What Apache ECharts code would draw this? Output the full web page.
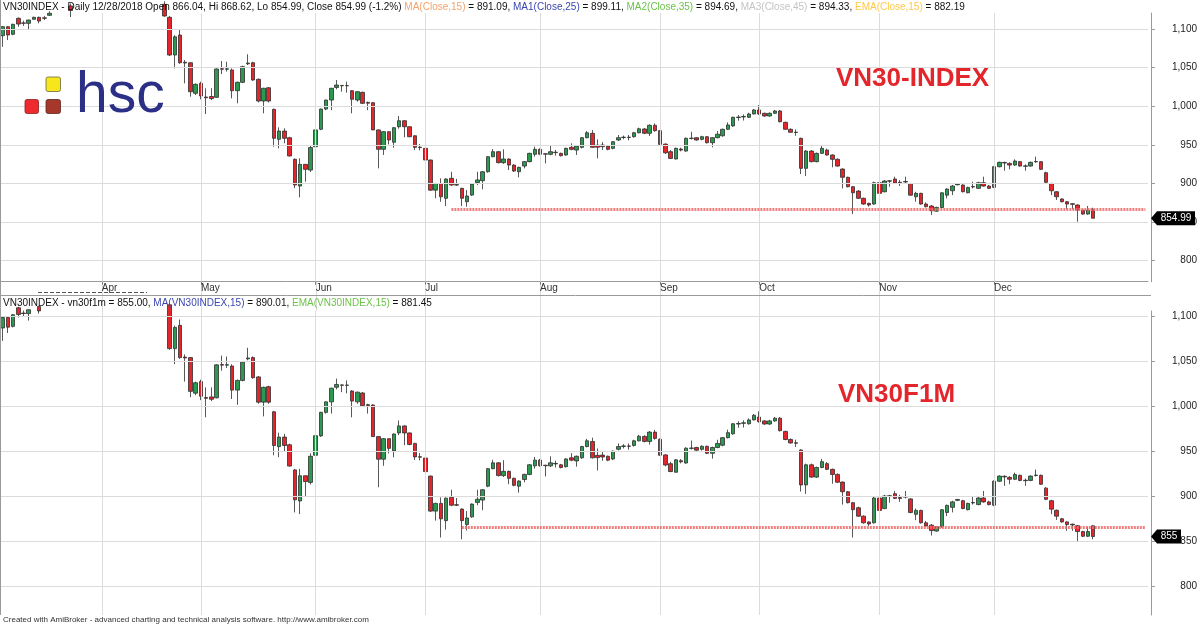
<!DOCTYPE html>
<html><head><meta charset="utf-8">
<script src="https://cdn.jsdelivr.net/npm/echarts@6/dist/echarts.min.js"></script>
<style>html,body{margin:0;padding:0;background:#fff}#c{width:1200px;height:628px}</style>
</head><body><div id="c"></div>
<script>
// ---------- categories ----------
const holidays = ['2018-04-25','2018-04-30','2018-05-01','2018-09-03'];
function tradingDates(s, e) {
  const out = [];
  let t = Date.UTC(+s.slice(0,4), +s.slice(5,7)-1, +s.slice(8,10));
  const end = Date.UTC(+e.slice(0,4), +e.slice(5,7)-1, +e.slice(8,10));
  while (t <= end) {
    const d = new Date(t), wd = d.getUTCDay();
    const iso = d.toISOString().slice(0,10);
    if (wd !== 0 && wd !== 6 && holidays.indexOf(iso) < 0) out.push(iso);
    t += 86400000;
  }
  return out;
}
const dates = tradingDates('2018-03-06', '2018-12-28');
const padSlots = 10;
const monthLabels = ['Apr','May','Jun','Jul','Aug','Sep','Oct','Nov','Dec'];
const priceTicks = [800, 850, 900, 950, 1000, 1050, 1100];

// ---------- VN30-INDEX  [open, close, low, high] ----------
const vn30 = [
[1091.4,1103,1077,1104],[1103,1092.3,1085.8,1104],[1093.2,1106.1,1092,1107],[1113.9,1106.5,1103,1115],[1108,1107.5,1104,1110.8],
[1107.4,1111.7,1099.6,1112],[1112.6,1115.2,1112,1116],[1115.2,1110.4,1107.4,1116],[1114.5,1114,1111.7,1117],[1117.8,1120.4,1117,1123],
[1124,1132,1122,1135],[1132,1138,1128,1142],[1138,1130,1126,1141],[1130,1124,1115.6,1133],[1125,1135,1123,1137],
[1135,1142,1131,1145],[1142,1150,1140,1153],[1150,1158,1147,1162],[1158,1165,1154,1168],[1165,1172,1160,1175],
[1172,1178,1168,1182],[1178,1170,1165,1181],[1170,1176,1166,1180],[1176,1183,1172,1186],[1183,1190,1180,1194],
[1190,1178,1174,1192],[1178,1165,1160,1180],[1165,1150,1145,1167],[1150,1158,1143,1162],[1158,1140,1136,1160],
[1140,1132,1126,1145],[1132,1116.9,1116,1136],[1115.2,1066.4,1065,1117],[1066.4,1090,1049.1,1092],[1092.3,1056.4,1055,1098.8],
[1057,1056,1029.7,1060],[1056.4,1018.8,1012.4,1057],[1016.8,1028.4,1014.6,1029.7],[1029.7,1013.3,1009,1031.8],[1012,1011,989.9,1023.3],
[1012.6,1010,1008,1023.3],[1011.6,1048.3,1011,1049],[1048.6,1048,1041.8,1058.6],[1048,1048.5,1044.9,1057.7],[1047,1020.2,1010.3,1049],
[1020.2,1031,1003.8,1032],[1031,1051.3,1030,1052.5],[1055,1056,1053.4,1067.3],[1056.4,1034,1033,1057.7],[1034.9,1006.8,1005,1036],
[1006.8,1023.3,990.9,1024],[1024,1006.8,1005,1025],[996,958.5,947.6,997],[957.2,967.9,945.5,972.7],[967.9,958.5,952,971.5],
[959.3,935.6,935,960.5],[931.3,898,894,932.5],[896.7,924.8,882.1,932.5],[924.8,918.3,902.3,925],[917.4,946.5,915,949.8],
[947.6,969.4,947,970],[970.2,996.4,969,997],[996.4,1008.1,995,1008.5],[1008.1,1023.3,995,1023.8],[1024.4,1027.5,1022,1034],
[1027,1026.5,1018.9,1027.5],[1026.5,1026.8,1017.6,1032],[1020.2,1009,990.9,1021],[1008.1,1018.9,1006,1019.5],[1018,1003.8,1003,1019],
[1005,1004,995,1006],[1004.6,969.4,969,1005.5],[969.4,944.2,919.6,970],[944.2,967.1,936.9,967.8],[967.1,956.3,950.7,967.8],
[953.4,972.3,946.4,973],[973.5,981.3,971,987.4],[981.3,973.5,959.8,982],[973.5,960.6,959.8,974],[961.8,946.8,943.3,962.5],
[947,946.5,943,951],[945.5,930.4,917.4,946],[930.4,891.4,890.5,931],[891.4,900,880.8,900.8],[900,882.8,876.4,906.7],
[880.8,905.8,870.8,906.7],[906.7,898,897,915.2],[898.5,898,897,906],[893.7,880.8,870.8,894.5],[876.4,883.8,869.9,891.5],
[885,899.2,884,900],[901.1,904.6,898,915.2],[903.7,915.2,892.4,916],[915.2,934.7,914,935.5],[934.7,941.2,934,944.6],
[941.2,927,926,942],[927,931.7,925.4,944.2],[931.7,923.9,917.4,932.5],[923.9,916.1,915,924.8],[915.2,920.9,908,921.7],
[922.6,928.3,919.6,929.1],[928.3,939,927.4,939.8],[937.8,944.2,934.7,947.7],[944.2,938,937,945.5],[938.5,938,926,939],
[937.8,941.2,936.5,948.5],[940.5,940,936,943.5],[939,936,935,940],[936.9,945.5,936,946.3],[946.8,944.2,943,952],
[943.3,948.5,936.9,949.3],[946.8,959.3,945.5,960.2],[959.3,965.7,958.5,967.9],[964.9,946.8,946,969.2],[949.5,947,932.6,957.2],
[949.8,947.7,943.5,953.5],[948.5,944.2,943,949.3],[945.5,954.1,944.2,955],[956.3,959.3,955,962.8],[959.5,960,957.2,962],
[960,959.6,955.8,962.8],[960.6,965.7,959.3,966.9],[965.7,970.8,965,972.3],[970.6,965,964,971.9],[965,975.4,961.5,976.6],
[975.4,968.4,967,977.9],[968.4,950.7,950,969.4],[951,939.8,938.2,951.9],[941.2,932.5,931.7,943.3],[931.7,945.5,931.3,946.4],
[944.6,943.3,941.6,946.4],[942,958.5,941.2,959.5],[958.3,958.7,957,967],[959.3,956.3,955.4,960],[957.2,960.6,955.8,961.8],
[960.6,952.8,951.9,961.3],[952.8,959.3,946.8,960.2],[959.3,963.8,958.5,967.9],[961.8,970.2,960.6,971],[970.2,975.8,969.4,979.1],
[974.5,985.7,973.5,986.5],[985.4,986,981.3,988.6],[986.2,986.8,981.5,989.5],[985.7,990,984.8,991.7],[990,995.2,989.5,996.5],
[995.2,990,989,1001.6],[990.9,987.4,986.5,991.7],[987.4,990.9,986.5,992.1],[990.9,993.9,990,995.2],[993.9,980,979.2,995.2],
[979.2,970.2,969.4,980],[970.2,966.3,965.7,971.4],[966.5,966,961.8,970],[958.5,919.6,912.2,959.3],[919.6,942,909.6,943.3],
[942,928.3,927.4,943.3],[928.3,939,927.4,940],[939,945.5,938.2,948.5],[943.3,936.9,936,945],[936.9,931.3,920.9,937.8],
[931.3,922.6,921.7,932.5],[918.7,908,893.7,919.6],[908,895.8,895,908.8],[895.8,888,860.4,896.7],[890.2,880.8,880,891.4],
[880.8,873.4,872.5,881.7],[874.3,872.1,870,875.1],[873.4,901,872.5,902.3],[901,887.2,886.3,902.3],[889.3,903.2,888.5,904.5],
[903,903.5,895.8,904.5],[905.8,900.6,899.8,908.8],[901.5,900.5,896.7,904.5],[902,902.6,900.6,908.8],[900,884.9,884,900.8],
[882.8,887.2,876.4,889.3],[887.2,873.4,872.5,888],[873.4,869.9,869,875.5],[870.8,864.7,859.2,872.1],[864.2,869,863.5,869.9],
[868.9,887.9,868,888.8],[884.9,892.8,880.8,893.7],[890.6,896.7,885,898],[898.4,899.4,897.5,900],[898,889.3,888.5,899],
[888,894.9,887.2,895.8],[895.5,896,893.7,902.3],[893.7,901,893,902.3],[901,896.7,895.8,908.8],[896.7,893.7,892.8,898],
[895,921.7,894,922.6],[921.7,927.4,921,928.3],[926.5,927.2,916.5,928.3],[926,923.9,918.3,927.4],[923.9,929.1,923,931.3],
[928.3,922.6,921.7,929.1],[922.3,922.8,916.5,924.8],[922.6,927.4,921.7,928.3],[928,928.5,927,934.7],[928.3,918.3,917.4,929.1],
[914,901.5,900.6,915.2],[900,890.6,885,901],[889.3,882.8,878.6,890.2],[879.9,876.4,875.5,880.8],[876.4,873.4,866.5,877.2],
[873.8,873,866.5,874.5],[872.1,865.6,850.5,873],[865.6,860.4,859.5,866.5],[860.4,865.6,859.5,870.8],[866.04,854.99,854.99,868.62]
];

// ---------- VN30F1M  [open, close, low, high] ----------
const vn30f1m = [
[1087.4,1099,1073,1100],[1099,1088.3,1081.8,1100],[1089.2,1102.1,1088,1103],[1109.9,1102.5,1099,1111],[1104,1103.5,1100,1106.8],
[1103.4,1107.7,1095.6,1108],[1108.6,1111.2,1108,1112],[1111.2,1106.4,1103.4,1112],[1110.5,1110,1107.7,1113],[1113.8,1116.4,1113,1119],
[1124,1132,1122,1135],[1132,1138,1128,1142],[1138,1130,1126,1141],[1130,1124,1115.6,1133],[1125,1135,1123,1137],
[1135,1142,1131,1145],[1142,1150,1140,1153],[1150,1158,1147,1162],[1158,1165,1154,1168],[1165,1172,1160,1175],
[1172,1178,1168,1182],[1178,1170,1165,1181],[1170,1176,1166,1180],[1176,1183,1172,1186],[1183,1190,1180,1194],
[1190,1178,1174,1192],[1178,1165,1160,1180],[1165,1150,1145,1167],[1150,1158,1143,1162],[1158,1140,1136,1160],
[1140,1132,1126,1145],[1132,1116.9,1116,1136],[1113.2,1064.4,1063,1115],[1064.4,1088,1047.1,1090],[1090.3,1054.4,1053,1096.8],
[1055,1054,1027.7,1058],[1054.4,1016.8,1010.4,1055],[1014.8,1026.4,1012.6,1027.7],[1027.7,1011.3,1007,1029.8],[1010,1009,987.9,1021.3],
[1010.6,1008,1006,1021.3],[1009.6,1046.3,1009,1047],[1046.6,1046,1039.8,1056.6],[1046,1046.5,1042.9,1055.7],[1045,1018.2,1008.3,1047],
[1018.2,1029,1001.8,1030],[1029,1049.3,1028,1050.5],[1053,1054,1051.4,1065.3],[1054.4,1032,1031,1055.7],[1032.9,1004.8,1003,1034],
[1004.8,1021.3,988.9,1022],[1022,1004.8,1003,1023],[994,956.5,945.6,995],[955.2,965.9,943.5,970.7],[965.9,956.5,950,969.5],
[957.3,933.6,933,958.5],[929.3,896,882,930.5],[894.7,922.8,880.1,930.5],[922.8,916.3,900.3,923],[915.4,944.5,913,947.8],
[945.6,967.4,945,968],[967.2,993.4,966,994],[993.4,1005.1,992,1005.5],[1005.1,1020.3,992,1020.8],[1021.4,1024.5,1019,1031],
[1024,1023.5,1015.9,1024.5],[1023.5,1023.8,1014.6,1029],[1017.2,1006,987.9,1018],[1005.1,1015.9,1003,1016.5],[1015,1000.8,1000,1016],
[1002,1001,992,1003],[1001.6,966.4,966,1002.5],[966.4,941.2,910,967],[941.2,964.1,933.9,964.8],[964.1,953.3,947.7,964.8],
[950.4,969.3,943.4,970],[970.5,978.3,968,984.4],[978.3,970.5,956.8,979],[970.5,957.6,956.8,971],[958.8,943.8,940.3,959.5],
[944,943.5,940,948],[942.5,927.4,914.4,943],[922.4,883.4,882.5,923],[883.4,892,872.8,892.8],[892,874.8,854,898.7],
[872.8,897.8,862.8,898.7],[898.7,890,889,907.2],[890.5,890,889,898],[885.7,872.8,852,886.5],[868.4,875.8,861.9,883.5],
[877,891.2,876,892],[893.1,896.6,890,907.2],[895.7,907.2,884.4,908],[911.2,930.7,910,931.5],[930.7,937.2,930,940.6],
[937.2,923,922,938],[923,927.7,921.4,940.2],[927.7,919.9,913.4,928.5],[919.9,912.1,911,920.8],[911.2,916.9,904,917.7],
[918.6,924.3,915.6,925.1],[924.3,935,923.4,935.8],[933.8,940.2,930.7,943.7],[940.2,934,933,941.5],[934.5,934,922,935],
[933.8,937.2,932.5,944.5],[936.5,936,932,939.5],[935,932,931,936],[932.9,941.5,932,942.3],[942.8,940.2,939,948],
[939.3,944.5,932.9,945.3],[942.8,955.3,941.5,956.2],[955.3,961.7,954.5,963.9],[960.9,942.8,942,965.2],[945.5,943,928.6,953.2],
[945.8,943.7,939.5,949.5],[944.5,940.2,939,945.3],[941.5,950.1,940.2,951],[952.3,955.3,951,958.8],[955.5,956,953.2,958],
[956,955.6,951.8,958.8],[956.6,961.7,955.3,962.9],[961.7,966.8,961,968.3],[966.6,961,960,967.9],[961,971.4,957.5,972.6],
[971.4,964.4,963,973.9],[963.4,945.7,945,964.4],[946,934.8,933.2,946.9],[936.2,927.5,926.7,938.3],[926.7,940.5,926.3,941.4],
[939.6,938.3,936.6,941.4],[937,953.5,936.2,954.5],[953.3,953.7,952,962],[954.3,951.3,950.4,955],[952.2,955.6,950.8,956.8],
[955.6,947.8,946.9,956.3],[947.8,954.3,941.8,955.2],[954.3,958.8,953.5,962.9],[956.8,965.2,955.6,966],[965.2,970.8,964.4,974.1],
[969.5,980.7,968.5,981.5],[980.4,981,976.3,983.6],[981.2,981.8,976.5,984.5],[980.7,985,979.8,986.7],[985,990.2,984.5,991.5],
[988.2,983,982,994.6],[983.9,980.4,979.5,984.7],[980.4,983.9,979.5,985.1],[983.9,986.9,983,988.2],[986.9,973,972.2,988.2],
[972.2,963.2,962.4,973],[963.2,959.3,958.7,964.4],[959.5,959,954.8,963],[951.5,912.6,905.2,952.3],[912.6,935,902.6,936.3],
[935,921.3,920.4,936.3],[921.3,932,920.4,933],[932,938.5,931.2,941.5],[936.3,929.9,929,938],[929.9,924.3,913.9,930.8],
[924.3,915.6,914.7,925.5],[915.7,905,890.7,916.6],[905,892.8,892,905.8],[892.8,885,854,893.7],[887.2,877.8,877,888.4],
[877.8,870.4,869.5,878.7],[871.3,869.1,867,872.1],[870.4,898,869.5,899.3],[898,884.2,883.3,899.3],[886.3,900.2,885.5,901.5],
[900,900.5,892.8,901.5],[902.8,897.6,896.8,905.8],[898.5,897.5,893.7,901.5],[899,899.6,897.6,905.8],[897,881.9,881,897.8],
[879.8,884.2,873.4,886.3],[884.2,870.4,869.5,885],[870.4,866.9,866,872.5],[867.8,861.7,856.2,869.1],[861.2,866,860.5,866.9],
[865.9,884.9,865,885.8],[881.9,889.8,877.8,890.7],[887.6,893.7,882,895],[895.4,896.4,894.5,897],[895,886.3,885.5,896],
[885,891.9,884.2,892.8],[892.5,893,890.7,899.3],[890.7,898,890,899.3],[898,893.7,892.8,905.8],[893.7,890.7,889.8,895],
[890,916.7,889,917.6],[916.7,922.4,916,923.3],[921.5,922.2,911.5,923.3],[921,918.9,913.3,922.4],[918.9,924.1,918,926.3],
[923.3,917.6,916.7,924.1],[917.3,917.8,911.5,919.8],[917.6,922.4,916.7,923.3],[923,923.5,922,929.7],[923.3,913.3,912.4,924.1],
[909,896.5,895.6,910.2],[895,885.6,880,896],[884.3,877.8,873.6,885.2],[874.9,871.4,870.5,875.8],[871.4,868.4,861.5,872.2],
[868.8,868,861.5,869.5],[867.1,860.6,849,868],[860.6,855.4,854.5,861.5],[855.4,860.6,854.5,865.8],[867,855,852,868]
];

// support lines: [start index, value]
const supportTop = [86, 866.3];
const supportBottom = [88, 865.8];
const lastTop = 854.99, lastBottom = 855;

// ---------- build ----------
const cats = dates.concat(Array.from({length: padSlots}, (_, k) => 'pad' + k));
const monthStart = [];
dates.forEach((d, i) => { if (i > 0 && d.slice(5,7) !== dates[i-1].slice(5,7)) monthStart.push(i); });
const isMonth = i => monthStart.indexOf(i) >= 0;
const FONT = '"Liberation Sans", Arial, sans-serif';
const GRID = '#dcdcdc';

function gridSeries(ax) {
  return {
    type: 'line', xAxisIndex: ax, yAxisIndex: ax, data: [], z: 1, silent: true,
    markLine: {
      silent: true, symbol: 'none', animation: false, label: {show: false},
      lineStyle: {color: GRID, width: 1, type: 'solid'},
      data: priceTicks.map(v => ({yAxis: v})).concat(monthStart.map(i => ({xAxis: cats[i]})))
    }
  };
}
function candleSeries(ax, data, sup) {
  return {
    type: 'candlestick', xAxisIndex: ax, yAxisIndex: ax, data: data, z: 3, barWidth: 4, clip: true,
    itemStyle: {color: '#2b9a50', color0: '#e3262b', borderColor: '#2e2e2e', borderColor0: '#2e2e2e', borderWidth: 0.8},
    markLine: {
      silent: true, symbol: 'none', animation: false, label: {show: false},
      lineStyle: {color: '#f07070', width: 3, type: [2, 1], opacity: 0.9},
      data: [[{coord: [cats[sup[0]], sup[1]]}, {coord: [cats[cats.length - 1], sup[1]]}]]
    }
  };
}
function yAx(ax, min, max) {
  return {
    type: 'value', gridIndex: ax, position: 'right', offset: 3, min: min, max: max, scale: true,
    splitLine: {show: false},
    axisLine: {show: true, lineStyle: {color: '#9a9a9a'}},
    axisTick: {show: true, customValues: priceTicks, length: 4, lineStyle: {color: '#9a9a9a'}},
    axisLabel: {customValues: priceTicks, formatter: v => v.toLocaleString('en-US'), align: 'right', margin: 46,
      fontSize: 10, fontFamily: FONT, color: '#222'}
  };
}
function rs(color) { return {color: color, fontSize: 10, fontFamily: FONT, fontWeight: 'normal'}; }

const chart = echarts.init(document.getElementById('c'), null, {renderer: 'canvas'});
const option = {
  animation: false,
  backgroundColor: '#fff',
  grid: [
    {left: 0, top: 13, width: 1148, height: 268.7},
    {left: 0, top: 311, width: 1148, height: 304}
  ],
  xAxis: [
    {type: 'category', gridIndex: 0, data: cats, boundaryGap: true,
     axisLine: {show: true, lineStyle: {color: '#9a9a9a'}},
     axisTick: {show: true, alignWithLabel: true, interval: (i) => isMonth(i), length: 3, lineStyle: {color: '#777'}},
     axisLabel: {interval: (i) => isMonth(i), formatter: (v, i) => monthLabels[monthStart.indexOf(i)] || '',
       align: 'left', margin: 2, fontSize: 10, fontFamily: FONT, color: '#333'},
     splitLine: {show: false}},
    {type: 'category', gridIndex: 1, data: cats, boundaryGap: true,
     axisLine: {show: false}, axisTick: {show: false}, axisLabel: {show: false}, splitLine: {show: false}}
  ],
  yAxis: [yAx(0, 772.8, 1120.8), yAx(1, 767.7, 1106.3)],
  title: [
    {left: 3, top: 2, padding: 0, text:
      '{k|VN30INDEX - Daily 12/28/2018 Open 866.04, Hi 868.62, Lo 854.99, Close 854.99 (-1.2%) }{a|MA(Close,15)}{k| = 891.09, }{b|MA1(Close,25)}{k| = 899.11, }{c|MA2(Close,35)}{k| = 894.69, }{d|MA3(Close,45)}{k| = 894.33, }{e|EMA(Close,15)}{k| = 882.19}',
     textStyle: {fontWeight: 'normal', rich: {k: rs('#111'), a: rs('#f4a26a'), b: rs('#3b46b0'), c: rs('#6cc24a'), d: rs('#c4c4c4'), e: rs('#ffc84a')}}},
    {left: 3, top: 298, padding: 0, text:
      '{k|VN30INDEX - vn30f1m = 855.00, }{b|MA(VN30INDEX,15)}{k| = 890.01, }{c|EMA(VN30INDEX,15)}{k| = 881.45}',
     textStyle: {fontWeight: 'normal', rich: {k: rs('#111'), b: rs('#3b46b0'), c: rs('#6cc24a')}}},
    {left: 3, top: 616, padding: 0, text: 'Created with AmiBroker - advanced charting and technical analysis software. http://www.amibroker.com',
     textStyle: {color: '#333', fontSize: 8, fontWeight: 'normal', fontFamily: FONT}},
    {left: 836, top: 66, padding: 0, text: 'VN30-INDEX', textStyle: {color: '#e3262b', fontSize: 26, fontWeight: 'bold', fontFamily: FONT}},
    {left: 838, top: 382, padding: 0, text: 'VN30F1M', textStyle: {color: '#e3262b', fontSize: 26, fontWeight: 'bold', fontFamily: FONT}}
  ],
  series: [gridSeries(0), gridSeries(1), candleSeries(0, vn30, supportTop), candleSeries(1, vn30f1m, supportBottom)]
};
chart.setOption(option);

function tag(yAxisIndex, value, text, width) {
  const y = chart.convertToPixel({yAxisIndex: yAxisIndex}, value);
  const x0 = 1151;
  return [
    {type: 'polygon', z: 100, shape: {points: [[x0, y], [x0 + 6, y - 7], [x0 + width, y - 7], [x0 + width, y + 7], [x0 + 6, y + 7]]},
     style: {fill: '#000'}},
    {type: 'text', z: 101, x: x0 + 6 + (width - 6) / 2, y: y, style: {text: text, fill: '#fff', font: '10px ' + FONT, align: 'center', verticalAlign: 'middle'}}
  ];
}
// month separators continuing through the date strip and the lower pane title row
const connectors = monthStart.map(i => {
  const x = Math.round(chart.convertToPixel({xAxisIndex: 0}, cats[i])) + 0.5;
  return {type: 'line', z: 0, silent: true, shape: {x1: x, y1: 282, x2: x, y2: 311}, style: {stroke: GRID, lineWidth: 1}};
});
const logo = [
  {type: 'rect', z: 50, shape: {x: 46, y: 77, width: 14.5, height: 14.5, r: 2}, style: {fill: '#f7e61c', stroke: '#6b6b3a', lineWidth: 0.8}},
  {type: 'rect', z: 50, shape: {x: 25, y: 99.5, width: 13.5, height: 14, r: 2}, style: {fill: '#ee2a2e', stroke: '#8a2020', lineWidth: 0.8}},
  {type: 'rect', z: 50, shape: {x: 46, y: 99.5, width: 14.5, height: 14, r: 2}, style: {fill: '#a6372b', stroke: '#5a2a20', lineWidth: 0.8}},
  {type: 'text', z: 50, x: 76, y: 96, style: {text: 'hsc', fill: '#2b2f86', font: '57px ' + FONT, verticalAlign: 'middle'}}
];
const frame = [
  {type: 'line', z: 40, shape: {x1: 0.5, y1: 0, x2: 0.5, y2: 615}, style: {stroke: '#9a9a9a', lineWidth: 1}},
  {type: 'line', z: 40, shape: {x1: 0, y1: 295.5, x2: 1151, y2: 295.5}, style: {stroke: '#9a9a9a', lineWidth: 1}},
  {type: 'line', z: 40, shape: {x1: 38, y1: 292.5, x2: 147, y2: 292.5}, style: {stroke: '#555', lineWidth: 1, lineDash: [4, 2]}}
];
chart.setOption({graphic: connectors.concat(frame, logo, tag(0, lastTop, lastTop.toFixed(2), 44), tag(1, lastBottom, String(lastBottom), 30))});
</script></body></html>
